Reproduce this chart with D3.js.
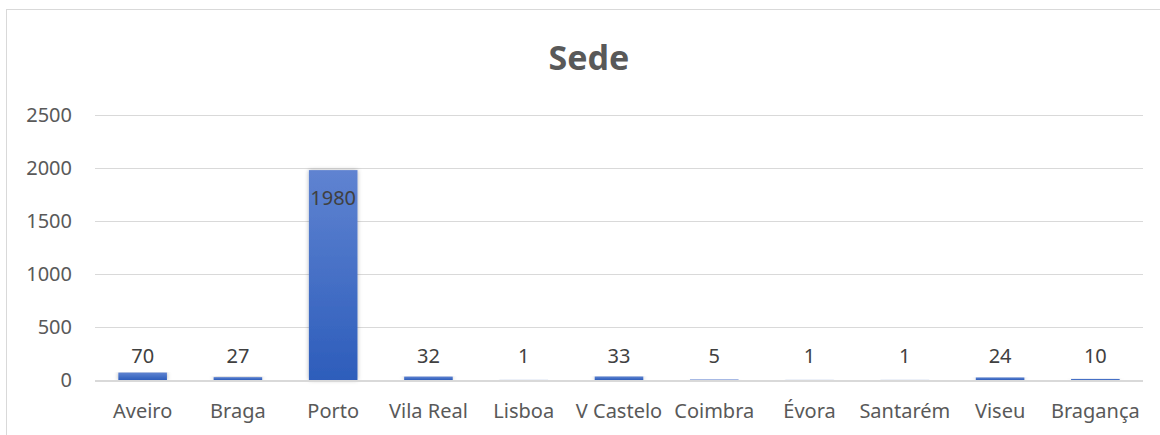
<!DOCTYPE html>
<html>
<head>
<meta charset="utf-8">
<script src="https://cdn.jsdelivr.net/npm/d3@7"></script>
<style>
  body { margin: 0; background: #fff; }
  svg { display: block; }
</style>
</head>
<body>
<div id="vis"></div>
<script>
// Data
const categories = ['Aveiro', 'Braga', 'Porto', 'Vila Real', 'Lisboa', 'V Castelo', 'Coimbra', 'Évora', 'Santarém', 'Viseu', 'Bragança'];
const values = [70, 27, 1980, 32, 1, 33, 5, 1, 1, 24, 10];
const y_ticks = [0, 500, 1000, 1500, 2000, 2500];
const title = 'Sede';

const width = 1160;
const height = 435;
const margin = {top: 115, right: 17, bottom: 55, left: 95};
const font = '"Noto Sans", "Open Sans", sans-serif';

const svg = d3.select('#vis').append('svg')
    .attr('width', width)
    .attr('height', height);

const defs = svg.append('defs');
const grad = defs.append('linearGradient')
    .attr('id', 'barGrad')
    .attr('x1', 0).attr('y1', 0).attr('x2', 0).attr('y2', 1);
grad.append('stop').attr('offset', '0%').attr('stop-color', '#5f83d1');
grad.append('stop').attr('offset', '100%').attr('stop-color', '#2d5dbb');

const shadow = defs.append('filter').attr('id', 'shadow')
    .attr('x', '-20%').attr('y', '-5%').attr('width', '140%').attr('height', '110%');
shadow.append('feDropShadow')
    .attr('dx', 0).attr('dy', 0).attr('stdDeviation', 2)
    .attr('flood-color', '#000').attr('flood-opacity', 0.3);

// chart border
svg.append('rect')
    .attr('x', 6.5).attr('y', 9.5)
    .attr('width', width + 20).attr('height', height + 20)
    .attr('fill', 'none')
    .attr('stroke', '#d9d9d9');

const x = d3.scaleBand()
    .domain(categories)
    .range([margin.left, width - margin.right])
    .paddingInner(0.49)
    .paddingOuter(0.245);

const y = d3.scaleLinear()
    .domain([0, 2500])
    .range([height - margin.bottom, margin.top]);

// gridlines
svg.append('g')
    .selectAll('line')
    .data(y_ticks.filter(d => d > 0))
    .join('line')
    .attr('x1', margin.left)
    .attr('x2', width - margin.right)
    .attr('y1', d => Math.round(y(d)) + 0.5)
    .attr('y2', d => Math.round(y(d)) + 0.5)
    .attr('stroke', '#d9d9d9')
    .attr('stroke-width', 1);

// y tick labels
svg.append('g')
    .selectAll('text')
    .data(y_ticks)
    .join('text')
    .attr('x', 72)
    .attr('y', d => y(d))
    .attr('dy', '0.36em')
    .attr('text-anchor', 'end')
    .attr('font-family', font)
    .attr('font-size', 20)
    .attr('fill', '#595959')
    .text(d => d);

// bars
svg.append('g')
    .selectAll('rect')
    .data(values)
    .join('rect')
    .attr('x', (d, i) => x(categories[i]))
    .attr('y', d => y(d))
    .attr('width', x.bandwidth())
    .attr('height', d => y(0) - y(d))
    .attr('fill', 'url(#barGrad)')
    .attr('filter', 'url(#shadow)');

// baseline
svg.append('line')
    .attr('x1', margin.left)
    .attr('x2', width - margin.right)
    .attr('y1', y(0) + 1)
    .attr('y2', y(0) + 1)
    .attr('stroke', '#d9d9d9')
    .attr('stroke-width', 2);

// value labels
svg.append('g')
    .selectAll('text')
    .data(values)
    .join('text')
    .attr('x', (d, i) => x(categories[i]) + x.bandwidth() / 2)
    .attr('y', d => d > 1000 ? y(d) + 35 : y(0) - 17)
    .attr('text-anchor', 'middle')
    .attr('font-family', font)
    .attr('font-size', 20)
    .attr('fill', '#404040')
    .text(d => d);

// category labels
svg.append('g')
    .selectAll('text')
    .data(categories)
    .join('text')
    .attr('x', d => x(d) + x.bandwidth() / 2)
    .attr('y', y(0) + 38)
    .attr('text-anchor', 'middle')
    .attr('font-family', font)
    .attr('font-size', 20)
    .attr('fill', '#595959')
    .text(d => d);

// title
svg.append('text')
    .attr('x', 589)
    .attr('y', 70)
    .attr('text-anchor', 'middle')
    .attr('font-family', font)
    .attr('font-size', 34)
    .attr('font-weight', 'bold')
    .attr('fill', '#595959')
    .text(title);
</script>
</body>
</html>
